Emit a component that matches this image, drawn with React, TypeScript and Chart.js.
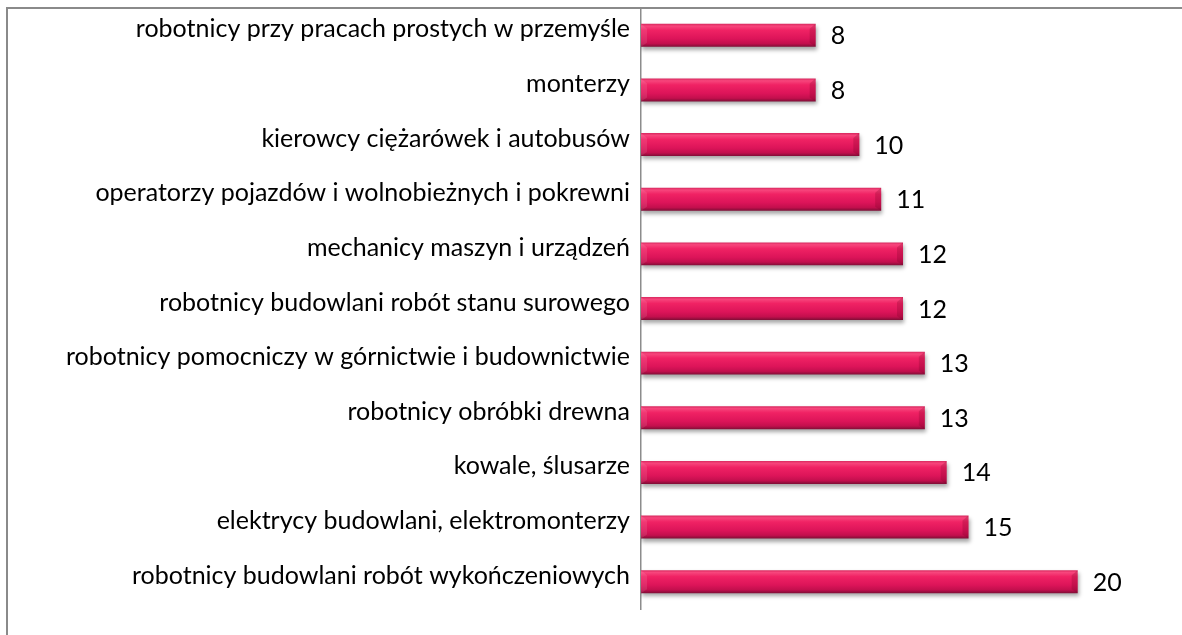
import React, { useEffect, useRef } from "react";
import { Chart, registerables } from "chart.js";

Chart.register(...registerables);

const categories: string[] = [
  "robotnicy przy pracach prostych w przemyśle",
  "monterzy",
  "kierowcy ciężarówek i autobusów",
  "operatorzy pojazdów i wolnobieżnych i pokrewni",
  "mechanicy maszyn i urządzeń",
  "robotnicy budowlani robót stanu surowego",
  "robotnicy pomocniczy w górnictwie i budownictwie",
  "robotnicy obróbki drewna",
  "kowale, ślusarze",
  "elektrycy budowlani, elektromonterzy",
  "robotnicy budowlani robót wykończeniowych",
];

const values: number[] = [8, 8, 10, 11, 12, 12, 13, 13, 14, 15, 20];

const FONT = "Lato, 'Open Sans', sans-serif";
const FONT_SIZE = 25;
const BAR_HALF = 11.5;

function barFill(c: any) {
  const chart = c.chart;
  const ys = chart.scales && chart.scales.y;
  if (!ys || c.dataIndex === undefined) return "#e8185a";
  const yc = ys.getPixelForValue(c.dataIndex);
  if (!Number.isFinite(yc)) return "#e8185a";
  const top = yc - BAR_HALF;
  const bot = yc + BAR_HALF;
  const g = chart.ctx.createLinearGradient(0, top, 0, bot);
  g.addColorStop(0, "#d8285e");
  g.addColorStop(0.1, "#f7457c");
  g.addColorStop(0.28, "#f02264");
  g.addColorStop(0.65, "#dc1459");
  g.addColorStop(0.86, "#c20f4d");
  g.addColorStop(1, "#7e0e36");
  return g;
}

const barLook = {
  id: "barLook",
  beforeDatasetsDraw(chart: any) {
    const ctx = chart.ctx;
    ctx.save();
    ctx.shadowColor = "rgba(0,0,0,0.35)";
    ctx.shadowBlur = 4;
    ctx.shadowOffsetX = 1;
    ctx.shadowOffsetY = 3;
  },
  afterDatasetsDraw(chart: any) {
    const ctx = chart.ctx;
    ctx.restore();
    const meta = chart.getDatasetMeta(0);
    ctx.save();
    meta.data.forEach((el: any) => {
      const top = el.y - el.height / 2;
      const bot = el.y + el.height / 2;
      const x = el.x;
      ctx.fillStyle = "rgba(110,0,30,0.22)";
      ctx.beginPath();
      ctx.moveTo(x - 6, top + 5);
      ctx.lineTo(x, top);
      ctx.lineTo(x, bot);
      ctx.lineTo(x - 6, bot - 4);
      ctx.closePath();
      ctx.fill();
      ctx.fillStyle = "rgba(255,255,255,0.10)";
      ctx.beginPath();
      ctx.moveTo(el.base, top);
      ctx.lineTo(el.base + 6, top + 5);
      ctx.lineTo(el.base + 6, bot - 4);
      ctx.lineTo(el.base, bot);
      ctx.closePath();
      ctx.fill();
    });
    ctx.fillStyle = "#000000";
    ctx.font = `${FONT_SIZE}px ${FONT}`;
    ctx.textAlign = "left";
    ctx.textBaseline = "middle";
    meta.data.forEach((el: any, i: number) => {
      ctx.fillText(String(values[i]), el.x + 15, el.y + 1);
    });
    ctx.restore();
  },
};

export default function App() {
  const ref = useRef<HTMLCanvasElement | null>(null);
  useEffect(() => {
    if (!ref.current) return;
    const chart = new Chart(ref.current, {
      type: "bar",
      data: {
        labels: categories,
        datasets: [
          {
            data: values,
            backgroundColor: barFill,
            borderWidth: 0,
            barPercentage: 0.84,
            categoryPercentage: 0.5,
          },
        ],
      },
      options: {
        indexAxis: "y",
        animation: false,
        responsive: false,
        maintainAspectRatio: false,
        layout: { padding: { top: 8, bottom: 26, left: 0, right: 17 } },
        plugins: {
          legend: { display: false },
          tooltip: { enabled: false },
        },
        scales: {
          x: {
            display: false,
            min: 0,
            max: 24,
          },
          y: {
            grid: { display: false },
            border: { display: true, color: "#8c8c8c", width: 1.5 },
            afterFit(scale: any) {
              scale.width = 641;
              scale.paddingTop = 0;
              scale.paddingBottom = 0;
            },
            ticks: {
              color: "#000000",
              padding: 3,
              labelOffset: -6,
              font: { family: FONT, size: FONT_SIZE },
            },
          },
        },
      },
      plugins: [barLook],
    });
    return () => chart.destroy();
  }, []);
  return (
    <div style={{ position: "fixed", left: 0, top: 0, width: 1182, height: 635, background: "#fff" }}>
      <canvas ref={ref} width={1182} height={635} style={{ position: "absolute", left: 0, top: 0 }} />
      <div
        style={{
          position: "absolute",
          left: 6,
          top: 7,
          width: 1200,
          height: 700,
          borderTop: "2px solid #8a8a8a",
          borderLeft: "2px solid #8a8a8a",
          pointerEvents: "none",
        }}
      />
    </div>
  );
}
